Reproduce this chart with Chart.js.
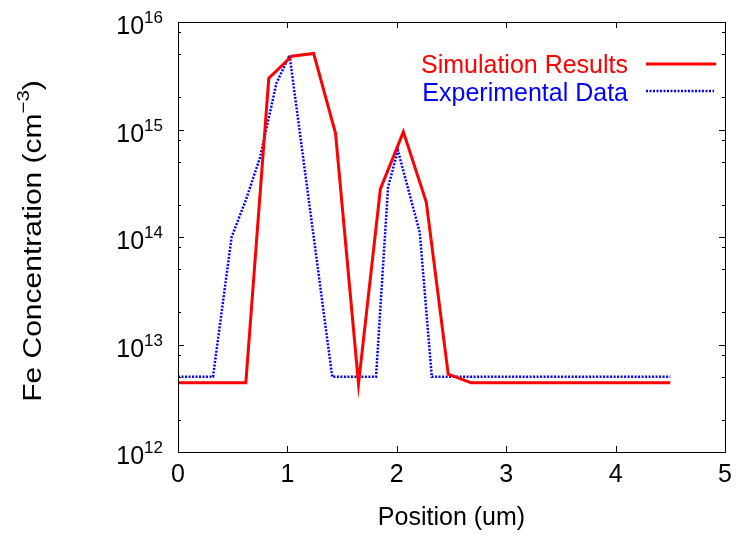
<!DOCTYPE html>
<html>
<head>
<meta charset="utf-8">
<script src="https://cdn.jsdelivr.net/npm/chart.js@4.4.1/dist/chart.umd.min.js"></script>
<style>
  body { margin: 0; background: #fff; }
  canvas { display: block; }
</style>
</head>
<body>
<canvas id="grafico" width="737" height="537"></canvas>
<script>
// Datos
const simX = [0, 0.62, 0.83, 1.04, 1.24, 1.44, 1.65, 1.85, 2.06, 2.27, 2.47, 2.68, 4.5];
const simY = [4.4e12, 4.4e12, 3.0e15, 4.8e15, 5.1e15, 9.2e14, 4.3e12, 2.8e14, 9.5e14, 2.1e14, 5.3e12, 4.4e12, 4.4e12];

const expX = [0, 0.32, 0.49, 0.62, 0.75, 0.9, 1.02, 1.41, 1.81, 1.92, 2.01, 2.21, 2.32, 4.5];
const expY = [5e12, 5e12, 1e14, 2.2e14, 5.5e14, 2.7e15, 4.9e15, 5e12, 5e12, 2.9e14, 6.4e14, 1.1e14, 5e12, 5e12];

const xTicks = [0, 1, 2, 3, 4, 5];
const yExps = [12, 13, 14, 15, 16];
const yMinor = [2, 5, 8];

const etiquetas = ["Simulation Results", "Experimental Data"];
const FONT = '"Liberation Sans", Arial, Helvetica, sans-serif';

// Dibuja marco, marcas, etiquetas y leyenda al estilo gnuplot
const ejes = {
  id: "ejes",
  afterDraw(chart) {
    const ctx = chart.ctx;
    const a = chart.chartArea;
    const sx = chart.scales.x;
    const sy = chart.scales.y;
    ctx.save();
    ctx.strokeStyle = "#000";
    ctx.lineWidth = 1;
    ctx.strokeRect(Math.round(a.left) + 0.5, Math.round(a.top) + 0.5,
      Math.round(a.right - a.left), Math.round(a.bottom - a.top));

    // marcas del eje x
    ctx.beginPath();
    xTicks.forEach(v => {
      const px = Math.round(sx.getPixelForValue(v)) + 0.5;
      ctx.moveTo(px, a.bottom); ctx.lineTo(px, a.bottom - 6);
      ctx.moveTo(px, a.top); ctx.lineTo(px, a.top + 6);
    });
    // marcas del eje y (mayores y menores)
    yExps.forEach(e => {
      const py = Math.round(sy.getPixelForValue(Math.pow(10, e))) + 0.5;
      ctx.moveTo(a.left, py); ctx.lineTo(a.left + 6, py);
      ctx.moveTo(a.right, py); ctx.lineTo(a.right - 6, py);
      if (e < 16) {
        yMinor.forEach(m => {
          const pm = Math.round(sy.getPixelForValue(m * Math.pow(10, e))) + 0.5;
          ctx.moveTo(a.left, pm); ctx.lineTo(a.left + 3, pm);
          ctx.moveTo(a.right, pm); ctx.lineTo(a.right - 3, pm);
        });
      }
    });
    ctx.stroke();

    ctx.fillStyle = "#000";
    // etiquetas x
    ctx.font = "25px " + FONT;
    ctx.textAlign = "center";
    ctx.textBaseline = "alphabetic";
    xTicks.forEach(v => {
      ctx.fillText(String(v), sx.getPixelForValue(v), 482);
    });
    ctx.fillText("Position (um)", (a.left + a.right) / 2, 525);

    // etiquetas y con exponente
    yExps.forEach(e => {
      const py = sy.getPixelForValue(Math.pow(10, e));
      ctx.font = "17px " + FONT;
      const we = ctx.measureText(String(e)).width;
      ctx.textAlign = "left";
      ctx.fillText(String(e), a.left - 15 - we, py + 1);
      ctx.font = "25px " + FONT;
      ctx.textAlign = "right";
      ctx.fillText("10", a.left - 15 - we, py + 12);
    });

    // título del eje y, rotado (algo estirado a lo largo, como en la figura)
    ctx.save();
    ctx.translate(32, 241);
    ctx.rotate(-Math.PI / 2);
    ctx.scale(1.2, 1);
    const t1 = "Fe Concentration (cm";
    const t2 = "\u22123";
    const t3 = ")";
    ctx.font = "25px " + FONT;
    const w1 = ctx.measureText(t1).width;
    const w3 = ctx.measureText(t3).width;
    ctx.font = "17px " + FONT;
    const w2 = ctx.measureText(t2).width;
    let x0 = -(w1 + w2 + w3) / 2;
    ctx.textAlign = "left";
    ctx.font = "25px " + FONT;
    ctx.fillText(t1, x0, 9);
    ctx.font = "17px " + FONT;
    ctx.fillText(t2, x0 + w1, -3);
    ctx.font = "25px " + FONT;
    ctx.fillText(t3, x0 + w1 + w2, 9);
    ctx.restore();

    // leyenda
    ctx.font = "25px " + FONT;
    ctx.textAlign = "right";
    ctx.fillStyle = "#ff0000";
    ctx.fillText(etiquetas[0], 628, 73);
    ctx.fillStyle = "#0000ff";
    ctx.fillText(etiquetas[1], 628, 101);
    ctx.lineWidth = 3;
    ctx.strokeStyle = "#ff0000";
    ctx.beginPath(); ctx.moveTo(646, 64); ctx.lineTo(716, 64); ctx.stroke();
    ctx.lineWidth = 2.5;
    ctx.strokeStyle = "#0000ff";
    ctx.setLineDash([2, 1.5]);
    ctx.beginPath(); ctx.moveTo(646, 91); ctx.lineTo(714, 91); ctx.stroke();
    ctx.restore();
  }
};

const ctx = document.getElementById("grafico").getContext("2d");
const chart = new Chart(ctx, {
  type: "line",
  data: {
    datasets: [
      {
        label: etiquetas[0],
        data: simX.map((x, i) => ({ x: x, y: simY[i] })),
        borderColor: "#ff0000",
        borderWidth: 3,
        borderJoinStyle: "miter",
        pointRadius: 0,
        fill: false,
        tension: 0
      },
      {
        label: etiquetas[1],
        data: expX.map((x, i) => ({ x: x, y: expY[i] })),
        borderColor: "#0000ff",
        borderWidth: 2.5,
        borderDash: [2, 1.5],
        pointRadius: 0,
        fill: false,
        tension: 0
      }
    ]
  },
  options: {
    responsive: false,
    devicePixelRatio: 1,
    animation: false,
    layout: { padding: { left: 178, top: 22, right: 12, bottom: 85 } },
    plugins: { legend: { display: false }, tooltip: { enabled: false } },
    scales: {
      x: { type: "linear", min: 0, max: 5, display: false },
      y: { type: "logarithmic", min: 1e12, max: 1e16, display: false }
    }
  },
  plugins: [ejes]
});
</script>
</body>
</html>
